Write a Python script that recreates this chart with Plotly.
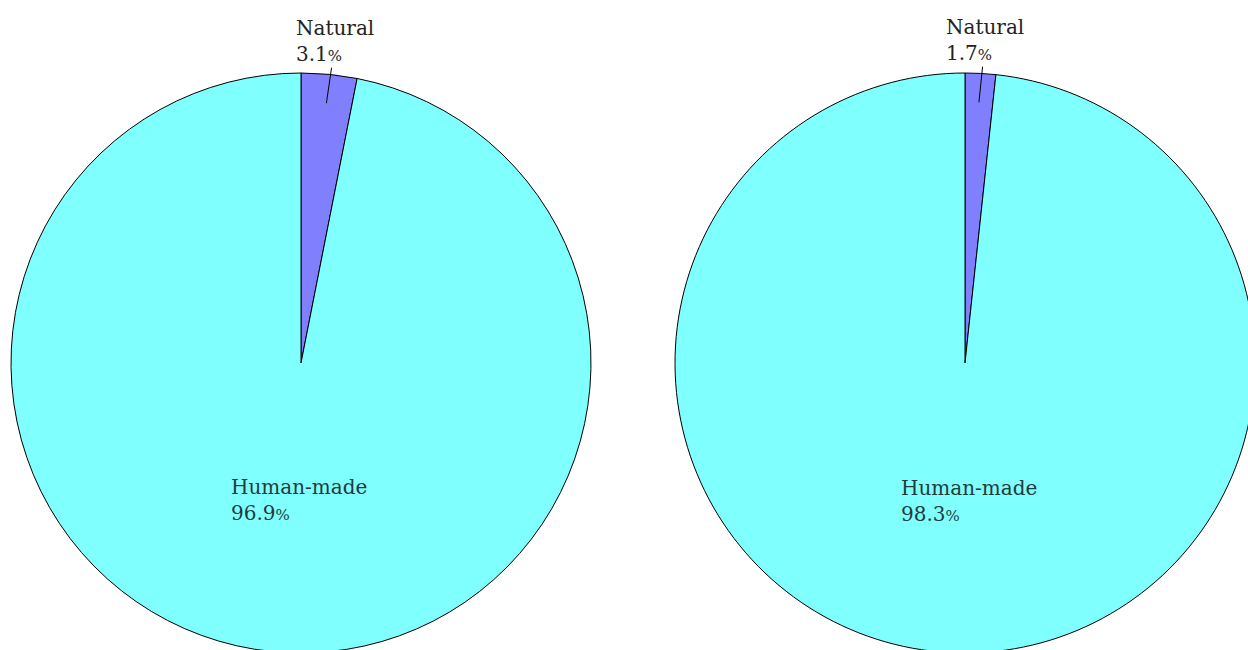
import math
import plotly.graph_objects as go

# Share of the total, two scenarios
categories = ["Natural", "Human-made"]
left_values = [3.1, 96.9]
right_values = [1.7, 98.3]
slice_colors = ["#8080ff", "#80ffff"]

# Canvas slightly larger than the viewport so both discs run off the edge
W, H = 1260, 660
R_PX = 290
centers_px = [(301, 363), (965, 363)]
FONT = "DejaVu Serif"


def domain_for(cx, cy):
    return dict(
        x=[(cx - R_PX) / W, (cx + R_PX) / W],
        y=[(H - (cy + R_PX)) / H, (H - (cy - R_PX)) / H],
    )


def polar_paper(cx, cy, frac_angle, r_frac):
    # angle measured clockwise from 12 o'clock, as a fraction of a full turn
    a = 2 * math.pi * frac_angle
    px = cx + r_frac * R_PX * math.sin(a)
    py = cy - r_frac * R_PX * math.cos(a)
    return px / W, (H - py) / H


def pct(v):
    return f"{v:.1f}<span style='font-size:15px'>%</span>"


fig = go.Figure()
annotations = []

for values, (cx, cy) in zip([left_values, right_values], centers_px):
    fig.add_trace(
        go.Pie(
            labels=categories,
            values=values,
            sort=False,
            direction="clockwise",
            rotation=0,
            marker=dict(colors=slice_colors, line=dict(color="#000000", width=1)),
            textinfo="none",
            hoverinfo="skip",
            domain=domain_for(cx, cy),
            showlegend=False,
        )
    )

    total = sum(values)
    start = 0.0
    for name, v in zip(categories, values):
        mid = (start + v / 2) / total
        start += v
        if name == "Natural":
            # small slice: label above the rim with a leader line into the slice
            x, y = polar_paper(cx, cy, mid, 0.9)
            a = 2 * math.pi * mid
            dr = (1.115 - 0.9) * R_PX
            annotations.append(
                dict(
                    x=x, y=y, xref="paper", yref="paper",
                    text=f"{name}<br>{pct(v)}",
                    align="left",
                    showarrow=True, arrowhead=0, arrowwidth=1, arrowcolor="#000000",
                    ax=dr * math.sin(a) + 3, ay=-dr * math.cos(a),
                    font=dict(family=FONT, size=20, color="#222222"),
                )
            )
        else:
            x, y = polar_paper(cx, cy, mid, 0.475)
            annotations.append(
                dict(
                    x=x, y=y, xref="paper", yref="paper",
                    text=f"{name}<br>{pct(v)}",
                    align="left",
                    showarrow=False,
                    xanchor="center", yanchor="middle",
                    xshift=11,
                    font=dict(family=FONT, size=20, color="#1f3b3b"),
                )
            )

fig.update_layout(
    width=W,
    height=H,
    margin=dict(l=0, r=0, t=0, b=0),
    paper_bgcolor="#ffffff",
    plot_bgcolor="#ffffff",
    annotations=annotations,
)

fig.write_html(
    "out.html",
    config={"displayModeBar": False},
    post_script="document.body.style.margin='0';document.body.style.overflow='hidden';",
)
